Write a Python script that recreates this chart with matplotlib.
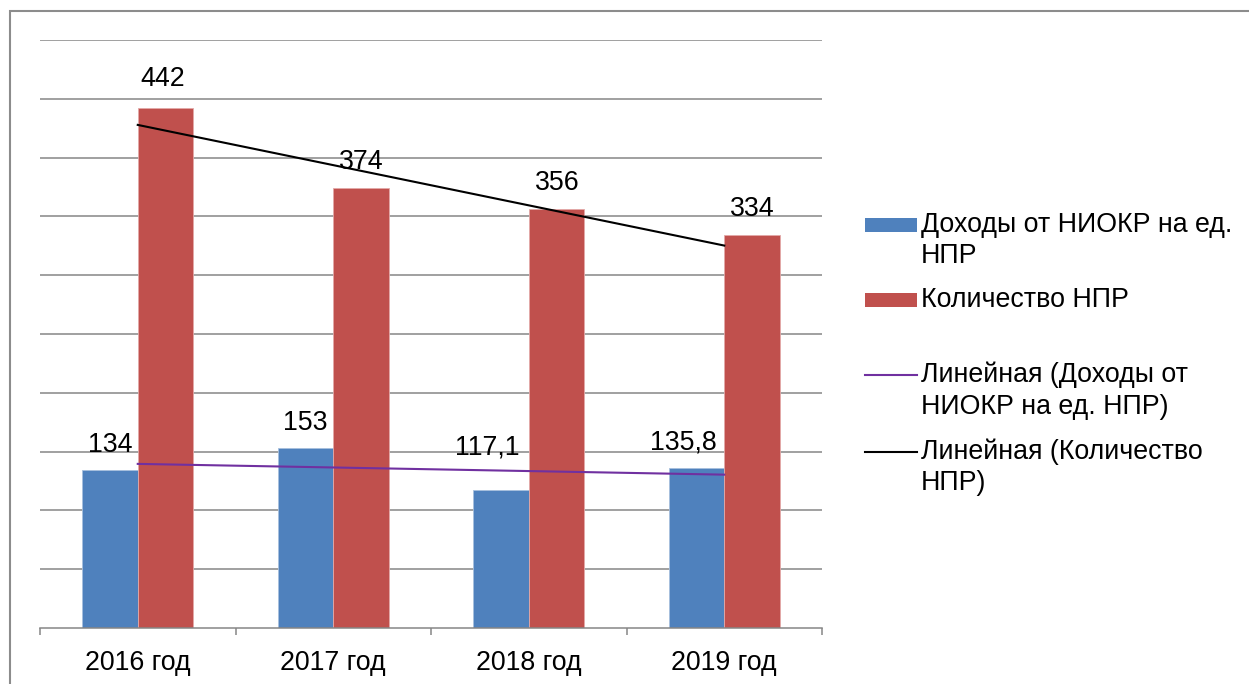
import numpy as np
import matplotlib
matplotlib.use('Agg')
import matplotlib.pyplot as plt
from matplotlib.patches import Rectangle
from matplotlib.lines import Line2D

plt.rcParams['font.family'] = ['Liberation Sans', 'DejaVu Sans']

# ── Data ────────────────────────────────────────────────────────────────────
years = ['2016 год', '2017 год', '2018 год', '2019 год']
income = [134, 153, 117.1, 135.8]
income_labels = ['134', '153', '117,1', '135,8']
staff = [442, 374, 356, 334]
staff_labels = ['442', '374', '356', '334']

# label nudges (pixels) relative to the bar top, as in the source
income_nudge = [(0, 25), (0, 25), (-14, 43), (-13, 26)]
staff_nudge = [(-3, 29), (0, 26), (1, 26), (0, 26)]

BLUE = '#4F81BD'
RED = '#C0504D'
PURPLE = '#7030A0'
GRID = '#868686'
FS = 19.3

W, H = 1249, 684
fig = plt.figure(figsize=(W / 100, H / 100), dpi=100)
ax = fig.add_axes([40 / W, 1 - 628 / H, 782 / W, 588 / H])

x = np.arange(len(years))
bw = 0.284

ax.bar(x - bw / 2, income, bw, color=BLUE, edgecolor='#A7C0DE', linewidth=0.6, zorder=2)
ax.bar(x + bw / 2, staff, bw, color=RED, edgecolor='#E3A9A8', linewidth=0.6, zorder=2)

# linear trends
for vals, col in ((income, PURPLE), (staff, 'black')):
    k, b = np.polyfit(x, vals, 1)
    ax.plot(x, k * x + b, color=col, lw=1.5, zorder=3)

for xi, v, s, (dx, dy) in zip(x, income, income_labels, income_nudge):
    ax.annotate(s, (xi - bw / 2, v), xytext=(dx, dy), textcoords='offset pixels',
                ha='center', va='center', fontsize=FS, zorder=4)
for xi, v, s, (dx, dy) in zip(x, staff, staff_labels, staff_nudge):
    ax.annotate(s, (xi + bw / 2, v), xytext=(dx, dy), textcoords='offset pixels',
                ha='center', va='center', fontsize=FS, zorder=4)

ax.set_xlim(-0.5, len(years) - 0.5)
ax.set_ylim(0, 500)
ax.set_yticks(np.arange(50, 501, 50))
ax.yaxis.grid(True, color=GRID, lw=1.1, zorder=0)
ax.set_axisbelow(True)
ax.tick_params(axis='y', left=False, labelleft=False)

ax.set_xticks(x)
ax.set_xticklabels(years, fontsize=FS)
ax.set_xticks(np.arange(-0.5, len(years)), minor=True)
ax.tick_params(axis='x', which='major', length=0, pad=16)
ax.tick_params(axis='x', which='minor', length=5, width=1.1, color=GRID, direction='out')

for side in ('left', 'right', 'top'):
    ax.spines[side].set_visible(False)
ax.spines['bottom'].set_color(GRID)
ax.spines['bottom'].set_linewidth(1.1)

# ── Legend (drawn by hand to keep Excel layout) ─────────────────────────────
def px(xp, yp):
    return xp / W, 1 - yp / H

entries = [
    ('patch', BLUE, [('Доходы от НИОКР на ед.', 225), ('НПР', 256)]),
    ('patch', RED, [('Количество НПР', 300)]),
    ('line', PURPLE, [('Линейная (Доходы от', 375), ('НИОКР на ед. НПР)', 407)]),
    ('line', 'black', [('Линейная (Количество', 452), ('НПР)', 483)]),
]
for kind, col, lines in entries:
    y0 = lines[0][1]
    if kind == 'patch':
        x0, yb = px(865, y0 + 7)
        fig.add_artist(Rectangle((x0, yb), 52 / W, 14 / H, transform=fig.transFigure,
                                 facecolor=col, edgecolor='none'))
    else:
        xa, ya = px(865, y0)
        xb, _ = px(917, y0)
        fig.add_artist(Line2D([xa, xb], [ya, ya], transform=fig.transFigure, color=col, lw=1.5))
    for txt, yy in lines:
        tx, ty = px(921, yy)
        fig.text(tx, ty, txt, fontsize=FS, ha='left', va='center')

# outer chart border
bx, by = px(10, 11)
fig.add_artist(Rectangle((bx, -0.1), 1.2, by + 0.1, transform=fig.transFigure,
                         facecolor='none', edgecolor='#8C8C8C', lw=1.5))

fig.savefig('out.png', dpi=100)
